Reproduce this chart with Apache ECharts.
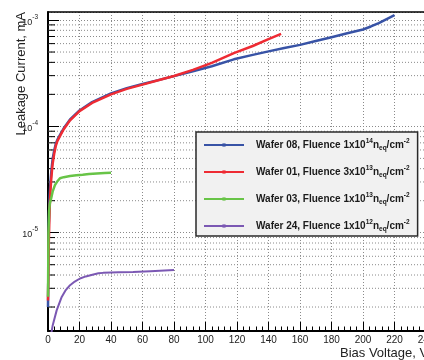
<!DOCTYPE html>
<html>
<head>
<meta charset="utf-8">
<script src="https://cdn.jsdelivr.net/npm/echarts@6/dist/echarts.min.js"></script>
<style>
  html, body { margin: 0; padding: 0; background: #fff; }
  #chart { width: 424px; height: 360px; }
</style>
</head>
<body>
<div id="chart"></div>
<script>
// leakage current vs bias voltage, four irradiated wafers (log y)
const FONT = '"Liberation Sans", Arial, sans-serif';

const SERIES_NAMES = ['Wafer 08', 'Wafer 01', 'Wafer 03', 'Wafer 24'];
const FLUENCE_MANT = ['1', '3', '1', '1'];
const FLUENCE_EXP = ['14', '13', '13', '12'];
const COLORS = ['#3853a6', '#ee2b33', '#68c447', '#7b58b3'];

// Wafer 08
const V_W08 = [0, 0.5, 1, 1.5, 2, 2.5, 3, 4, 5, 6, 8, 10, 14, 20, 28, 40, 50, 60, 70, 80,
  92, 104, 118, 130, 140, 150, 160, 170, 180, 190, 200, 205, 210, 215, 220];
const I_W08 = [2.0e-6, 1.2e-5, 2.2e-5, 2.9e-5, 3.6e-5, 4.3e-5, 5.0e-5, 6.0e-5, 6.9e-5, 7.5e-5,
  8.5e-5, 9.6e-5, 1.16e-4, 1.41e-4, 1.69e-4, 2.04e-4, 2.29e-4, 2.50e-4, 2.72e-4, 2.97e-4,
  3.30e-4, 3.68e-4, 4.27e-4, 4.70e-4, 5.07e-4, 5.45e-4, 5.84e-4, 6.35e-4, 6.90e-4, 7.50e-4,
  8.15e-4, 8.70e-4, 9.35e-4, 1.02e-3, 1.11e-3];

// Wafer 01
const V_W01 = [0, 0.5, 1, 1.5, 2, 2.5, 3, 4, 5, 6, 8, 10, 14, 20, 28, 40, 50, 60, 70, 80,
  92, 104, 118, 130, 140, 148];
const I_W01 = [2.3e-6, 8.0e-6, 1.6e-5, 2.4e-5, 3.1e-5, 3.8e-5, 4.5e-5, 5.6e-5, 6.6e-5, 7.3e-5,
  8.3e-5, 9.4e-5, 1.14e-4, 1.39e-4, 1.66e-4, 2.00e-4, 2.25e-4, 2.47e-4, 2.71e-4, 2.98e-4,
  3.40e-4, 3.95e-4, 4.88e-4, 5.70e-4, 6.60e-4, 7.40e-4];

// Wafer 03
const V_W03 = [0, 0.3, 0.7, 1.2, 2, 3, 4.4, 6, 7.6, 10, 14, 18, 22, 26, 31, 36, 40];
const I_W03 = [2.5e-6, 1.0e-5, 1.6e-5, 1.9e-5, 2.1e-5, 2.45e-5, 2.8e-5, 3.05e-5, 3.25e-5,
  3.33e-5, 3.41e-5, 3.47e-5, 3.51e-5, 3.56e-5, 3.61e-5, 3.64e-5, 3.66e-5];

// Wafer 24
const V_W24 = [1.5, 3, 5.5, 8.7, 11, 14, 17, 20.3, 24, 28.8, 32, 35, 45, 54, 65, 80];
const I_W24 = [1.0e-6, 1.35e-6, 1.86e-6, 2.49e-6, 2.85e-6, 3.21e-6, 3.47e-6, 3.71e-6, 3.88e-6,
  4.05e-6, 4.15e-6, 4.19e-6, 4.24e-6, 4.28e-6, 4.35e-6, 4.45e-6];

// axis decoration: log minor positions 2..9 x 10^n
const DECADES = [1e-6, 1e-5, 1e-4];
const MULTS = [2, 3, 4, 5, 6, 7, 8, 9];
const MINOR_Y = [];
DECADES.forEach(d => MULTS.forEach(m => MINOR_Y.push(+(m * d).toPrecision(3))));

const X_MIN = 0, X_MAX = 240;
const pairs = (xs, ys) => xs.map((x, i) => [x, ys[i]]);
const DATA = [pairs(V_W08, I_W08), pairs(V_W01, I_W01), pairs(V_W03, I_W03), pairs(V_W24, I_W24)];
const WIDTHS = [2.5, 2.5, 2.5, 2];

const chart = echarts.init(document.getElementById('chart'), null, { renderer: 'canvas' });

const lineSeries = SERIES_NAMES.map((name, i) => ({
  name,
  type: 'line',
  data: DATA[i],
  smooth: false,
  symbol: 'rect',
  showSymbol: false,
  z: 3,
  lineStyle: { color: COLORS[i], width: WIDTHS[i] },
  itemStyle: { color: COLORS[i] },
}));

// minor log grid lines + short inside ticks, positioned through the axes
const minorSeries = {
  type: 'custom',
  silent: true,
  z: 1,
  clip: false,
  data: MINOR_Y.map(v => [X_MIN, v]),
  encode: { x: 0, y: 1 },
  renderItem: (params, api) => {
    const v = api.value(1);
    const a = api.coord([X_MIN, v]);
    const b = api.coord([X_MAX, v]);
    return {
      type: 'group',
      children: [
        { type: 'line', shape: { x1: a[0], y1: a[1], x2: b[0], y2: b[1] },
          style: { stroke: '#8a8a8a', lineWidth: 1, lineDash: [1, 2] } },
        { type: 'line', shape: { x1: a[0], y1: a[1], x2: a[0] + 7, y2: a[1] },
          style: { stroke: '#000', lineWidth: 1 } },
      ],
    };
  },
};

const legendText = SERIES_NAMES.map((n, i) =>
  '{t|' + n + ', Fluence ' + FLUENCE_MANT[i] + 'x10}{sup|' + FLUENCE_EXP[i] + '}{t|n}{sub|eq}{t|/cm}{sup|-2}');

chart.setOption({
  animation: false,
  backgroundColor: '#fff',
  grid: { left: 48, right: -2, top: 12, bottom: 29, containLabel: false, outerBoundsMode: 'none' },
  legend: {
    data: SERIES_NAMES,
    orient: 'vertical',
    left: 196,
    top: 132,
    itemWidth: 40,
    itemHeight: 4,
    itemGap: 13,
    padding: [6, 8, 3, 7],
    backgroundColor: '#f1f1f1',
    borderColor: '#2a2a2a',
    borderWidth: 1.5,
    selectedMode: false,
    formatter: name => legendText[SERIES_NAMES.indexOf(name)],
    textStyle: {
      padding: [0, 0, 0, 7],
      rich: {
        t: { fontFamily: FONT, fontSize: 10, fontWeight: 'bold', color: '#1a1a1a', lineHeight: 14, verticalAlign: 'middle' },
        sup: { fontFamily: FONT, fontSize: 6.5, fontWeight: 'bold', color: '#1a1a1a', lineHeight: 14, verticalAlign: 'top' },
        sub: { fontFamily: FONT, fontSize: 6.5, fontWeight: 'bold', color: '#1a1a1a', lineHeight: 14, verticalAlign: 'bottom' },
      },
    },
  },
  xAxis: [{
    type: 'value',
    min: X_MIN,
    max: X_MAX,
    interval: 20,
    axisLine: { show: true, onZero: false, lineStyle: { color: '#000', width: 2 } },
    axisTick: { show: true, inside: true, length: 9, lineStyle: { color: '#000', width: 1 } },
    minorTick: { show: true, splitNumber: 5, length: 4.5, lineStyle: { color: '#000', width: 1 } },
    axisLabel: { fontFamily: FONT, fontSize: 10, color: '#222', margin: 4, hideOverlap: false },
    splitLine: { show: true, lineStyle: { color: '#8a8a8a', type: [1, 2], width: 1 } },
  }, {
    type: 'value',
    position: 'top',
    min: X_MIN,
    max: X_MAX,
    axisLine: { show: true, onZero: false, lineStyle: { color: '#000', width: 1.5 } },
    axisTick: { show: false },
    axisLabel: { show: false },
    splitLine: { show: false },
  }],
  yAxis: {
    type: 'log',
    logBase: 10,
    min: 1.19e-6,
    max: 1.19e-3,
    axisLine: { show: true, lineStyle: { color: '#000', width: 2 } },
    axisTick: { show: true, inside: true, length: 11, lineStyle: { color: '#000', width: 1 } },
    axisLabel: {
      showMinLabel: false,
      showMaxLabel: false,
      margin: 10,
      formatter: v => '{b|10}{s|' + Math.round(Math.log10(v)) + '}',
      rich: {
        b: { fontFamily: FONT, fontSize: 9, color: '#222', lineHeight: 13, verticalAlign: 'bottom' },
        s: { fontFamily: FONT, fontSize: 6.5, color: '#222', lineHeight: 13, verticalAlign: 'top' },
      },
    },
    splitLine: { show: true, lineStyle: { color: '#8a8a8a', type: [1, 2], width: 1 } },
  },
  graphic: [
    {
      type: 'text', x: 21, y: 12, rotation: Math.PI / 2, silent: true,
      style: { text: 'Leakage Current, mA', font: '13px ' + FONT, fill: '#222',
               textAlign: 'right', textVerticalAlign: 'middle' },
    },
    {
      type: 'text', x: 340, y: 353, silent: true,
      style: { text: 'Bias Voltage, V', font: '13px ' + FONT, fill: '#222',
               textAlign: 'left', textVerticalAlign: 'middle' },
    },
  ],
  series: [minorSeries, ...lineSeries],
});
</script>
</body>
</html>
